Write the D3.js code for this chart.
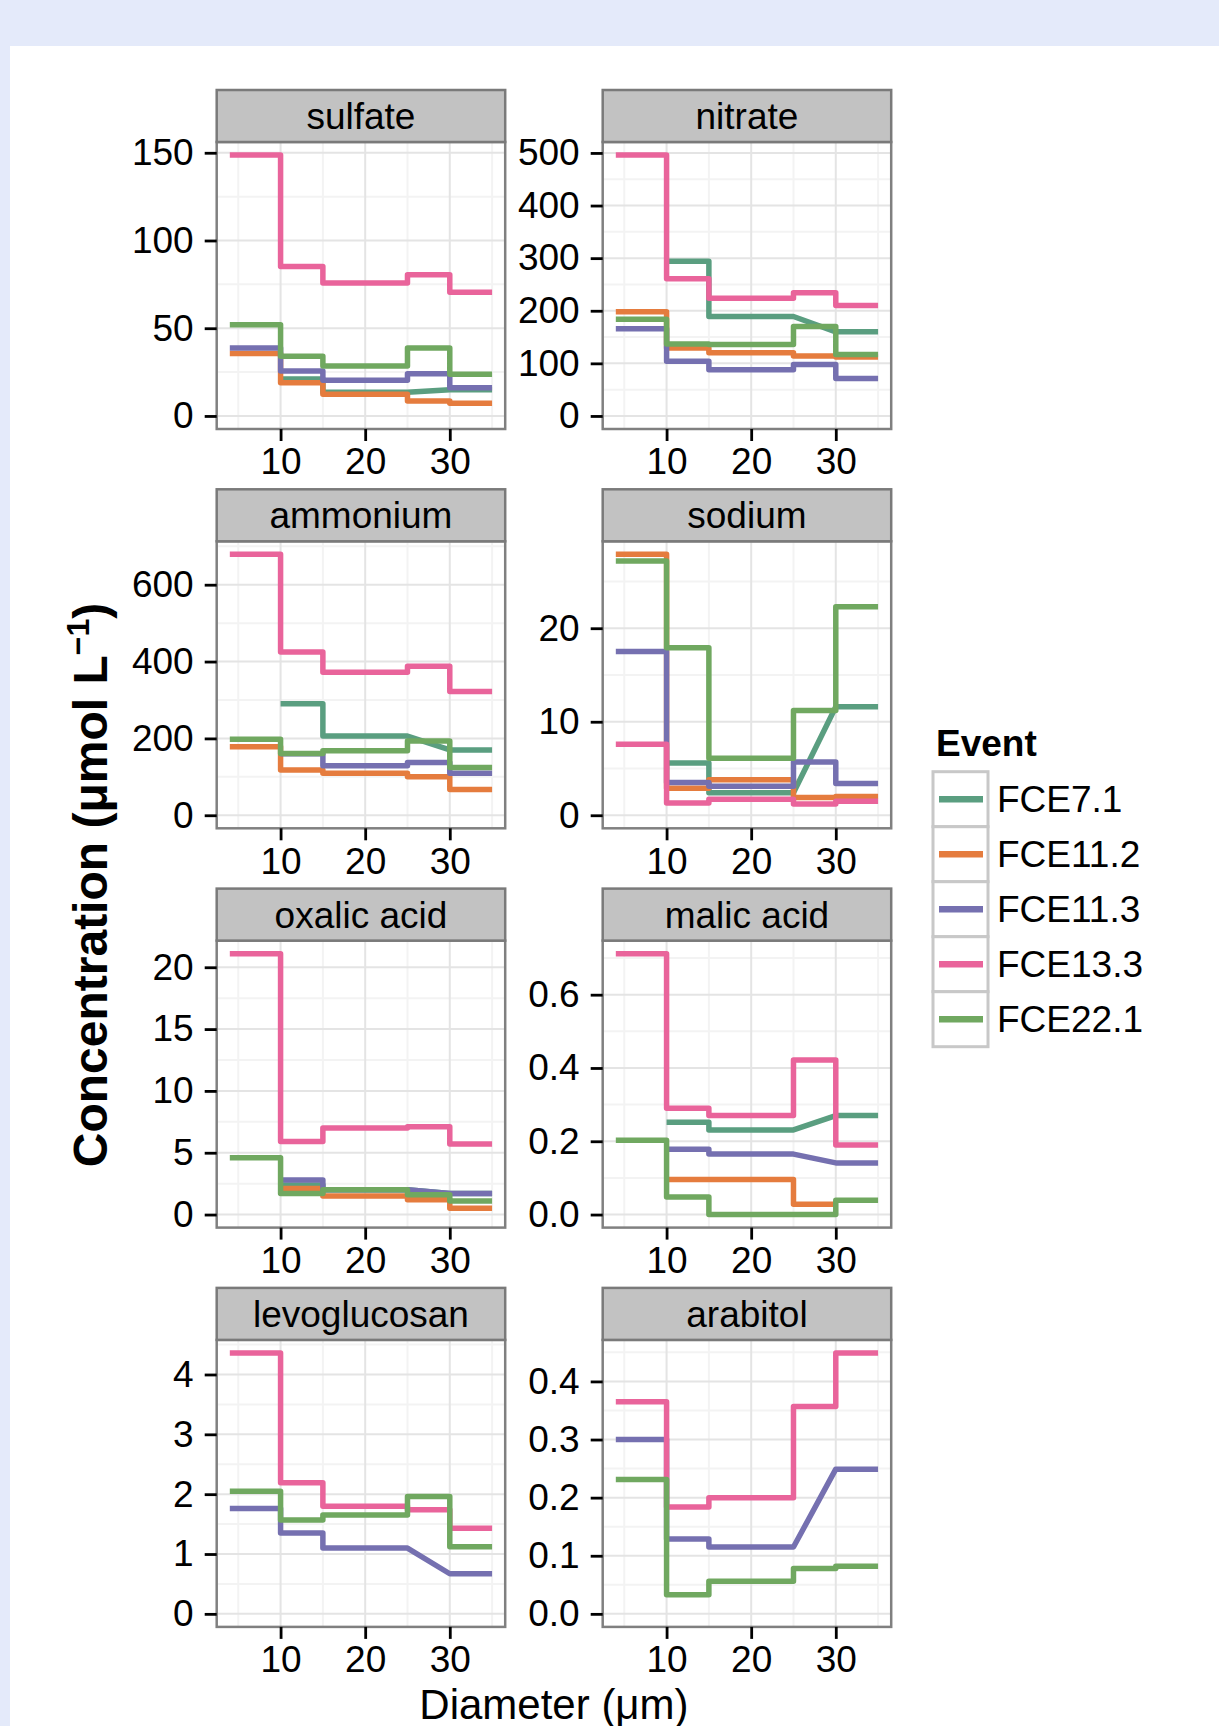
<!DOCTYPE html>
<html>
<head>
<meta charset="utf-8">
<script src="https://cdn.jsdelivr.net/npm/d3@7"></script>
<style>
  body { margin: 0; background: #e4eafa; }
  svg { display: block; font-family: "Liberation Sans", Arial, sans-serif; }
  .tick text { font-size: 37px; fill: #000; }
</style>
</head>
<body>
<div id="chart"></div>
<script>

// facets, in reading order
var panelNames = ["sulfate", "nitrate", "ammonium", "sodium", "oxalic acid", "malic acid", "levoglucosan", "arabitol"];
var events = ["FCE7.1", "FCE11.2", "FCE11.3", "FCE13.3", "FCE22.1"];
var eventColors = ["#5a9e80", "#e57c3e", "#7570b0", "#e9649b", "#70a860"];

// size bins (um), each value holds between two edges
var binEdges = [4, 10, 15, 25, 30, 35];
var xTicks = [10, 20, 30];

// one row per event (same order as events), one value per bin, null = no sample
var sulfate = [
  [null, 21, 13.5, null, 15],
  [35.6, 18.9, 12.3, 8.5, 7.2],
  [38.8, 25.6, 20.3, 24, 16.1],
  [148.7, 85.2, 75.8, 80.5, 70.5],
  [52, 34, 28.4, 38.8, 23.7]
];
var nitrate = [
  [null, 294, 189, null, 160],
  [198, 129, 120, 114, 112],
  [166, 104, 88, 98, 71],
  [496, 261, 224, 234, 210],
  [184, 137, 136, 170, 117]
];
var ammonium = [
  [null, 290, 206, null, 170],
  [178, 118, 109, 100, 67],
  [null, 160, 129, 137, 109],
  [679, 425, 372, 388, 322],
  [198, 161, 168, 193, 124]
];
var sodium = [
  [null, 5.6, 2.4, null, 11.6],
  [27.9, 2.9, 3.8, 1.9, 2.0],
  [17.5, 3.5, 3.1, 5.7, 3.4],
  [7.6, 1.3, 1.7, 1.2, 1.5],
  [27.2, 17.9, 6.1, 11.2, 22.3]
];
var oxalic = [
  [null, 2.4, 2.0, null, 1.7],
  [null, 2.1, 1.5, 1.2, 0.5],
  [null, 2.8, 2.0, null, 1.7],
  [21.1, 5.9, 7.0, 7.1, 5.7],
  [4.6, 1.7, 2.0, 1.6, 1.1]
];
var malic = [
  [null, 0.252, 0.231, null, 0.27],
  [null, 0.096, 0.096, 0.028, null],
  [null, 0.178, 0.165, null, 0.141],
  [0.712, 0.29, 0.27, 0.422, 0.19],
  [0.203, 0.048, 0.0, 0.0, 0.039]
];
var levoglucosan = [
  [null, null, null, null, null],
  [null, null, null, null, null],
  [1.76, 1.35, 1.1, null, 0.67],
  [4.36, 2.19, 1.8, 1.74, 1.43],
  [2.05, 1.57, 1.65, 1.96, 1.12]
];
var arabitol = [
  [null, null, null, null, null],
  [null, null, null, null, null],
  [0.30, 0.129, 0.115, null, 0.249],
  [0.365, 0.184, 0.2, 0.357, 0.449],
  [0.231, 0.033, 0.056, 0.078, 0.082]
];
var panelValues = [sulfate, nitrate, ammonium, sodium, oxalic, malic, levoglucosan, arabitol];

var yTicks = [
  [0, 50, 100, 150],
  [0, 100, 200, 300, 400, 500],
  [0, 200, 400, 600],
  [0, 10, 20],
  [0, 5, 10, 15, 20],
  [0, 0.2, 0.4, 0.6],
  [0, 1, 2, 3, 4],
  [0, 0.1, 0.2, 0.3, 0.4]
];
var yFormats = ["d", "d", "d", "d", "d", ".1f", "d", ".1f"];


var fullwidth = 1219;
var fullheight = 1726;

var colX = [216.7, 602.7];
var rowTop = 90, rowStep = 399.3;
var stripH = 52, panelW = 288.5, panelH = 287;

var svg = d3.select("#chart")
  .append("svg")
  .attr("width", fullwidth)
  .attr("height", fullheight);

// page: blue band on top/left, white sheet
svg.append("rect")
  .attr("x", 10).attr("y", 46)
  .attr("width", fullwidth - 10).attr("height", fullheight - 46)
  .attr("fill", "#fff");

var xScale = d3.scaleLinear()
  .domain(pad([binEdges[0], binEdges[binEdges.length - 1]]))
  .range([0, panelW]);

function pad(ext) {
  var d = (ext[1] - ext[0]) * 0.05;
  return [ext[0] - d, ext[1] + d];
}

// ggplot style minor breaks: midpoints, extended one step outside
function minorBreaks(b, dom) {
  var step = b[1] - b[0];
  var ext = [b[0] - step].concat(b, [b[b.length - 1] + step]);
  var out = [];
  for (var i = 0; i < ext.length - 1; i++) {
    var m = (ext[i] + ext[i + 1]) / 2;
    if (m > dom[0] && m < dom[1]) out.push(m);
  }
  return out;
}

var line = d3.line()
  .x(function(d) { return xScale(d[0]); })
  .y(function(d) { return d[2](d[1]); });

panelNames.forEach(function(name, i) {
  var col = i % 2, row = Math.floor(i / 2);
  var top = rowTop + row * rowStep;
  var g = svg.append("g")
    .attr("transform", "translate(" + colX[col] + "," + (top + stripH) + ")");

  var vals = panelValues[i];
  var all = [0];
  vals.forEach(function(s) { s.forEach(function(v) { if (v !== null) all.push(v); }); });
  var yScale = d3.scaleLinear()
    .domain(pad(d3.extent(all)))
    .range([panelH, 0]);

  // grid
  g.selectAll(".ymin").data(minorBreaks(yTicks[i], yScale.domain()))
    .enter().append("line")
    .attr("x1", 0).attr("x2", panelW)
    .attr("y1", function(d) { return yScale(d); })
    .attr("y2", function(d) { return yScale(d); })
    .attr("stroke", "#f3f3f3").attr("stroke-width", 2);
  g.selectAll(".xmin").data(minorBreaks(xTicks, xScale.domain()))
    .enter().append("line")
    .attr("y1", 0).attr("y2", panelH)
    .attr("x1", function(d) { return xScale(d); })
    .attr("x2", function(d) { return xScale(d); })
    .attr("stroke", "#f3f3f3").attr("stroke-width", 2);
  g.selectAll(".ymaj").data(yTicks[i])
    .enter().append("line")
    .attr("x1", 0).attr("x2", panelW)
    .attr("y1", function(d) { return yScale(d); })
    .attr("y2", function(d) { return yScale(d); })
    .attr("stroke", "#e4e4e4").attr("stroke-width", 2);
  g.selectAll(".xmaj").data(xTicks)
    .enter().append("line")
    .attr("y1", 0).attr("y2", panelH)
    .attr("x1", function(d) { return xScale(d); })
    .attr("x2", function(d) { return xScale(d); })
    .attr("stroke", "#e4e4e4").attr("stroke-width", 2);

  // one step line per event, missing bins are skipped
  vals.forEach(function(s, k) {
    var pts = [];
    s.forEach(function(v, b) {
      if (v === null) return;
      pts.push([binEdges[b], v, yScale]);
      pts.push([binEdges[b + 1], v, yScale]);
    });
    if (pts.length === 0) return;
    g.append("path")
      .attr("d", line(pts))
      .attr("fill", "none")
      .attr("stroke", eventColors[k])
      .attr("stroke-width", 5.5)
      .attr("stroke-linejoin", "round");
  });

  // border
  g.append("rect")
    .attr("width", panelW).attr("height", panelH)
    .attr("fill", "none").attr("stroke", "#808080").attr("stroke-width", 2.5);

  // axes
  var ya = g.append("g")
    .call(d3.axisLeft(yScale).tickValues(yTicks[i]).tickSize(12).tickPadding(11)
      .tickFormat(d3.format(yFormats[i])));
  var xa = g.append("g")
    .attr("transform", "translate(0," + panelH + ")")
    .call(d3.axisBottom(xScale).tickValues(xTicks).tickSize(12).tickPadding(7));
  [ya, xa].forEach(function(a) {
    a.select(".domain").remove();
    a.selectAll(".tick line").attr("stroke", "#000").attr("stroke-width", 2.8);
    a.selectAll(".tick text").style("font-size", "37px").attr("fill", "#000");
  });

  // strip
  svg.append("rect")
    .attr("x", colX[col]).attr("y", top)
    .attr("width", panelW).attr("height", stripH)
    .attr("fill", "#c2c2c2").attr("stroke", "#7a7a7a").attr("stroke-width", 2.5);
  svg.append("text")
    .attr("x", colX[col] + panelW / 2).attr("y", top + stripH / 2)
    .attr("dy", "0.35em")
    .style("text-anchor", "middle")
    .style("font-size", "37px")
    .text(name);
});

// axis titles
var yTitle = svg.append("text")
  .attr("transform", "translate(107,885) rotate(-90)")
  .style("text-anchor", "middle")
  .style("font-size", "48px")
  .style("font-weight", "bold");
yTitle.append("tspan").text("Concentration (μmol L");
yTitle.append("tspan").attr("dy", -18).style("font-size", "32px").text("−1");
yTitle.append("tspan").attr("dy", 18).text(")");

svg.append("text")
  .attr("x", (colX[0] + colX[1] + panelW) / 2)
  .attr("y", 1719)
  .style("text-anchor", "middle")
  .style("font-size", "42px")
  .text("Diameter (μm)");

// legend
var legend = svg.append("g").attr("transform", "translate(933,771.7)");
legend.append("text")
  .attr("x", 3).attr("y", -16)
  .style("font-size", "37px")
  .style("font-weight", "bold")
  .text("Event");
var keys = legend.selectAll(".key").data(events)
  .enter().append("g")
  .attr("transform", function(d, i) { return "translate(0," + (i * 55) + ")"; });
keys.append("rect")
  .attr("width", 55).attr("height", 55)
  .attr("fill", "#fff").attr("stroke", "#c8c8c8").attr("stroke-width", 3);
keys.append("line")
  .attr("x1", 6).attr("x2", 50)
  .attr("y1", 27.5).attr("y2", 27.5)
  .attr("stroke", function(d, i) { return eventColors[i]; })
  .attr("stroke-width", 6.5);
keys.append("text")
  .attr("x", 64).attr("y", 27.5).attr("dy", "0.35em")
  .style("font-size", "37px")
  .text(function(d) { return d; });

</script>
</body>
</html>
